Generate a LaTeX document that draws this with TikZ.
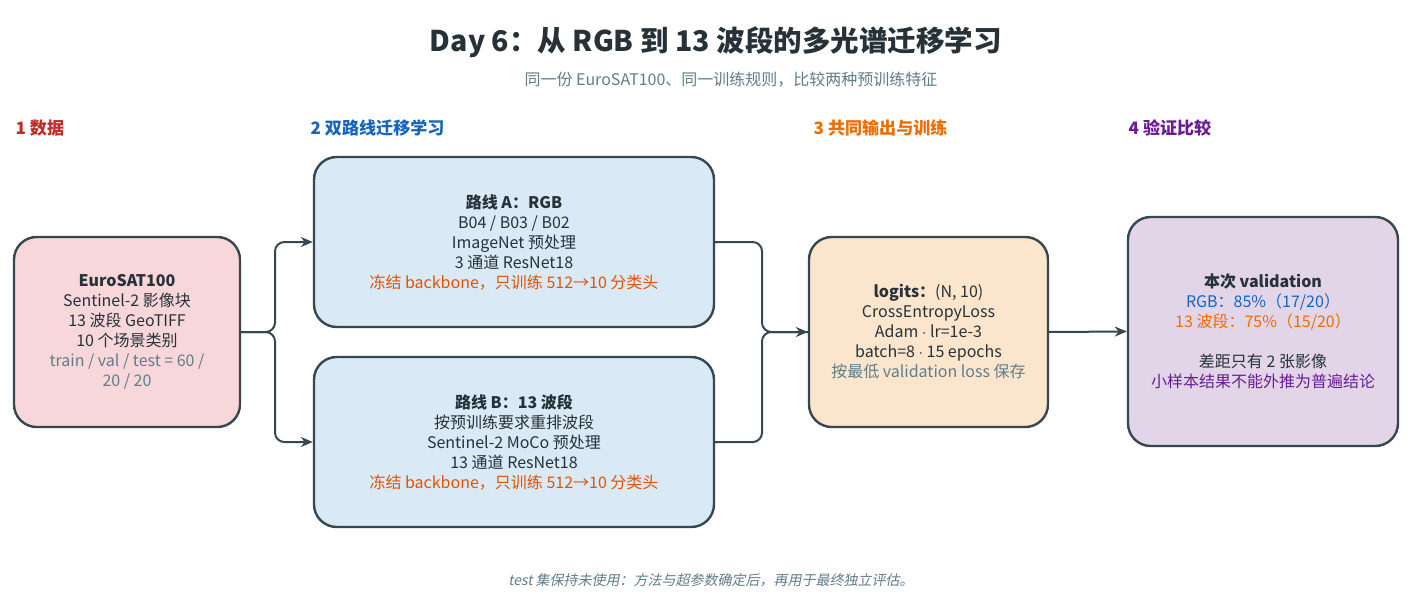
\documentclass[tikz,border=0pt]{standalone}
\usepackage{fontspec}
\setmainfont{Noto Sans CJK SC}[AutoFakeSlant=0.2]
\usepackage{tikz}
\usetikzlibrary{positioning,arrows.meta,calc}
\definecolor{inkDark}{HTML}{263238}
\definecolor{edgeGray}{HTML}{37474F}
\definecolor{mutedGray}{HTML}{607D8B}
\definecolor{dataRed}{HTML}{C62828}
\definecolor{pathBlue}{HTML}{1565C0}
\definecolor{trainOrange}{HTML}{EF6C00}
\definecolor{freezeOrange}{HTML}{E65100}
\definecolor{evalPurple}{HTML}{6A1B9A}
\definecolor{dataFill}{HTML}{F8D7DA}
\definecolor{pathFill}{HTML}{D9E9F5}
\definecolor{trainFill}{HTML}{FCE5CD}
\definecolor{evalFill}{HTML}{E1D5E7}

\tikzset{
  card/.style={draw=edgeGray, line width=1.8pt, rounded corners=17pt,
    align=center, text=inkDark, font=\fontsize{12}{15}\selectfont},
  phase/.style={anchor=west, font=\bfseries\fontsize{12.8}{15}\selectfont},
  flow/.style={draw=edgeGray, line width=1.5pt, rounded corners=7pt},
  flowarrow/.style={flow, -{Stealth[length=9pt,width=7.5pt]}}
}

\begin{document}
\begin{tikzpicture}[x=0.75pt, y=-0.75pt]
  \useasboundingbox[fill=white] (0,0) rectangle (1415,611);

  % title
  \node[font=\bfseries\fontsize{21.4}{25}\selectfont, text=inkDark] (title) at (716,42)
    {Day 6：从 RGB 到 13 波段的多光谱迁移学习};
  \node[font=\fontsize{12}{14}\selectfont, text=mutedGray] (subtitle) at (731,80)
    {同一份 EuroSAT100、同一训练规则，比较两种预训练特征};

  % phase headings
  \node[phase, text=dataRed] (h1) at (11,128) {1 数据};
  \node[phase, text=pathBlue] (h2) at (306,128) {2 双路线迁移学习};
  \node[phase, text=trainOrange] (h3) at (809,128) {3 共同输出与训练};
  \node[phase, text=evalPurple] (h4) at (1124,128) {4 验证比较};

  % boxes
  \node[card, fill=dataFill, minimum width=169.5pt, minimum height=142.5pt] (data) at (127,332)
    {\textbf{EuroSAT100}\\ Sentinel-2 影像块\\ 13 波段 GeoTIFF\\ 10 个场景类别\\
     \textcolor{mutedGray}{train / val / test = 60 /}\\ \textcolor{mutedGray}{20 / 20}};
  \node[card, fill=pathFill, minimum width=300pt, minimum height=127.5pt] (routeA) at (514,242)
    {\textbf{路线 A：RGB}\\ B04 / B03 / B02\\ ImageNet 预处理\\ 3 通道 ResNet18\\
     \textcolor{freezeOrange}{冻结 backbone，只训练 512→10 分类头}};
  \node[card, fill=pathFill, minimum width=300pt, minimum height=127.5pt] (routeB) at (514,442)
    {\textbf{路线 B：13 波段}\\ 按预训练要求重排波段\\ Sentinel-2 MoCo 预处理\\ 13 通道 ResNet18\\
     \textcolor{freezeOrange}{冻结 backbone，只训练 512→10 分类头}};
  \node[card, fill=trainFill, minimum width=179.25pt, minimum height=142.5pt] (logits) at (928.5,332)
    {\textbf{logits：}(N, 10)\\ CrossEntropyLoss\\ Adam $\cdot$ lr=1e-3\\ batch=8 $\cdot$ 15 epochs\\
     \textcolor{mutedGray}{按最低 validation loss 保存}};
  \node[card, fill=evalFill, minimum width=202.5pt, minimum height=171.75pt] (valid) at (1263,331.5)
    {\textbf{本次 validation}\\ \textcolor{pathBlue}{RGB：85\%（17/20）}\\
     \textcolor{trainOrange}{13 波段：75\%（15/20）}\\[15pt]
     差距只有 2 张影像\\ \textcolor{evalPurple}{小样本结果不能外推为普遍结论}};

  % connectors
  \coordinate (split) at (275,332);
  \coordinate (merge) at (762,332);
  \draw[flowarrow] (data.east) -- (split) |- (routeA.west);
  \draw[flowarrow] (data.east) -- (split) |- (routeB.west);
  \draw[flow] (routeA.east) -| (merge) -- (logits.west);
  \draw[flowarrow] (routeB.east) -| (merge) -- (logits.west);
  \draw[flowarrow] (logits.east) -- (valid.west);

  % footnote
  \node[font=\itshape\fontsize{10.5}{12}\selectfont, text=mutedGray] (note) at (711,580)
    {test 集保持未使用：方法与超参数确定后，再用于最终独立评估。};
\end{tikzpicture}
\end{document}
